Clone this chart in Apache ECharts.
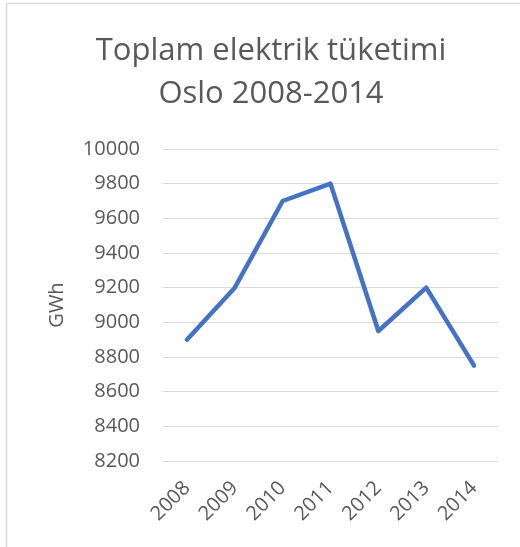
<!DOCTYPE html>
<html><head><meta charset="utf-8">
<script src="https://cdn.jsdelivr.net/npm/echarts@6/dist/echarts.min.js"></script>
<style>html,body{margin:0;padding:0;background:#fff}#c{width:520px;height:547px}</style>
</head><body><div id="c"></div>
<script>
const categories = ['2008','2009','2010','2011','2012','2013','2014'];
const values = [8900, 9200, 9700, 9800, 8950, 9200, 8750];
const titleLines = ['Toplam elektrik tüketimi', 'Oslo 2008-2014'];
const yName = 'GWh';
const yMin = 8200, yMax = 10000, yStep = 200;

const chart = echarts.init(document.getElementById('c'));
const font = 'Open Sans';
chart.setOption({
  animation: false,
  backgroundColor: '#fff',
  title: {
    text: titleLines.join('\n'),
    left: 266, top: 25, textAlign: 'center',
    textStyle: { fontFamily: font, fontSize: 31, fontWeight: 'normal', color: '#595959', lineHeight: 43 }
  },
  graphic: [
    { type: 'line', shape: { x1: 6.5, y1: 3.5, x2: 520, y2: 3.5 }, style: { stroke: '#d9d9d9', lineWidth: 1.5 } },
    { type: 'line', shape: { x1: 6.5, y1: 3.5, x2: 6.5, y2: 547 }, style: { stroke: '#d9d9d9', lineWidth: 1.5 } }
  ],
  grid: { left: 163, right: 22, top: 149, bottom: 86 },
  xAxis: {
    type: 'category', data: categories, boundaryGap: true,
    axisLine: { show: true, lineStyle: { color: '#d9d9d9' } },
    axisTick: { show: false },
    axisLabel: { rotate: 45, margin: 24, fontFamily: font, fontSize: 20, color: '#595959' }
  },
  yAxis: {
    type: 'value', min: yMin, max: yMax, interval: yStep,
    name: yName, nameLocation: 'middle', nameGap: 96, nameRotate: 90,
    nameTextStyle: { fontFamily: font, fontSize: 20, color: '#595959' },
    axisLine: { show: false }, axisTick: { show: false },
    splitLine: { lineStyle: { color: '#d9d9d9', width: 1 } },
    axisLabel: { margin: 23, fontFamily: font, fontSize: 20, color: '#595959', formatter: v => String(v) }
  },
  series: [{
    type: 'line', data: values, showSymbol: false, symbol: 'none',
    lineStyle: { color: '#4472C4', width: 4.5, cap: 'round', join: 'round' }
  }]
});
</script></body></html>
